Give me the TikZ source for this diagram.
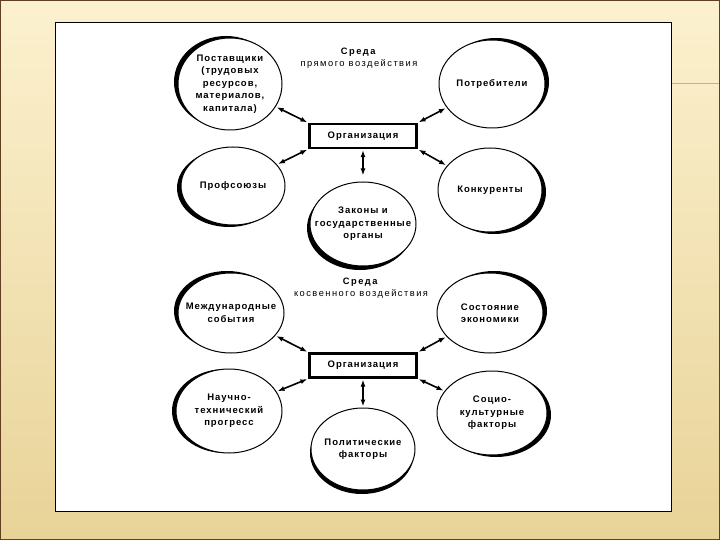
\documentclass[tikz,border=0pt]{standalone}
\usepackage{fontspec}
\setmainfont{Liberation Sans}
\newfontfamily\slidefont{Liberation Sans}[LetterSpace=10]
\newfontfamily\headfont{Liberation Sans}[LetterSpace=16]
\usepackage{tikz}
\usetikzlibrary{shapes.geometric,shadows,arrows.meta}

\definecolor{slidetop}{HTML}{FCF1CF}
\definecolor{slidebot}{HTML}{E8D398}
\definecolor{slideline}{HTML}{E8A860}

\begin{document}
\begin{tikzpicture}
    [x=1pt,y=-1pt,
     env/.style={ellipse,draw,fill=white,line width=1pt,minimum width=106,minimum height=84,inner sep=0pt},
     rim/.style 2 args={drop shadow={shadow xshift=#1,shadow yshift=#2,opacity=1,fill=black}},
     lab/.style={font=\slidefont\bfseries\fontsize{9.5}{12.5}\selectfont,align=center,inner sep=0pt},
     head/.style={font=\headfont\fontsize{9.3}{12}\selectfont,align=center,inner sep=0pt},
     org/.style={rectangle,draw,fill=white,line width=2.3pt,minimum width=107,minimum height=24,font=\slidefont\bfseries\fontsize{9.5}{11}\selectfont},
     link/.style={<->,>={Latex[length=7pt,width=5pt]},line width=1.6pt,shorten <=1pt,shorten >=1pt}]

    \useasboundingbox (0,0) rectangle (720,540);
    \fill[top color=slidetop,bottom color=slidebot] (0,0) rectangle (720,540);
    \draw[slideline,line width=0.8pt] (671,83) -- (720,83);
    \draw[black!50!brown,line width=0.6pt] (0.3,0.3) rectangle (719.7,539.7);
    \draw[fill=white,line width=0.8pt] (55,22) rectangle (671,511);

    \node[head] (head1) at (359,58) {\textbf{Среда}\\прямого воздействия};

    \node[org] (org1) at (363,136) {Организация};

    \node[env,rim={-4pt}{2pt},minimum width=104,minimum height=92] (suppliers) at (230,84)
      [label={[lab]center:Поставщики\\(трудовых\\ресурсов,\\материалов,\\капитала)}] {}
      edge [link] (org1.north west);

    \node[env,rim={4pt}{2pt},minimum height=88] (consumers) at (492,84)
      [label={[lab]center:Потребители}] {}
      edge [link] (org1.north east);

    \node[env,rim={-4pt}{-2pt},minimum width=104,minimum height=78] (unions) at (233,186)
      [label={[lab]center:Профсоюзы}] {}
      edge [link] (org1.south west);

    \node[env,rim={4pt}{-2pt},minimum width=104] (competitors) at (490,190)
      [label={[lab]center:Конкуренты}] {}
      edge [link] (org1.south east);

    \node[env,rim={-3pt}{-4pt}] (laws) at (363,224)
      [label={[lab]center:Законы и\\государственные\\органы}] {}
      edge [link,shorten <=6pt] (org1);

    \node[head] (head2) at (361,288) {\textbf{Среда}\\косвенного воздействия};

    \node[org] (org2) at (363,365.5) {Организация};

    \node[env,rim={-4pt}{2pt},minimum height=80] (events) at (231,313)
      [label={[lab]center:Международные\\события}] {}
      edge [link] (org2.north west);

    \node[env,rim={4pt}{2pt},minimum height=80] (economy) at (490,313)
      [label={[lab]center:Состояние\\экономики}] {}
      edge [link] (org2.north east);

    \node[env,rim={-4pt}{0pt}] (progress) at (229,411)
      [label={[lab]center:Научно-\\технический\\прогресс}] {}
      edge [link] (org2.south west);

    \node[env,rim={4pt}{-2pt},minimum width=110] (culture) at (492,413)
      [label={[lab]center:Социо-\\культурные\\факторы}] {}
      edge [link] (org2.south east);

    \node[env,rim={-1pt}{-4pt},minimum width=104,minimum height=82] (politics) at (363,449)
      [label={[lab]center:Политические\\факторы}] {}
      edge [link] (org2);
  \end{tikzpicture}
\end{document}
